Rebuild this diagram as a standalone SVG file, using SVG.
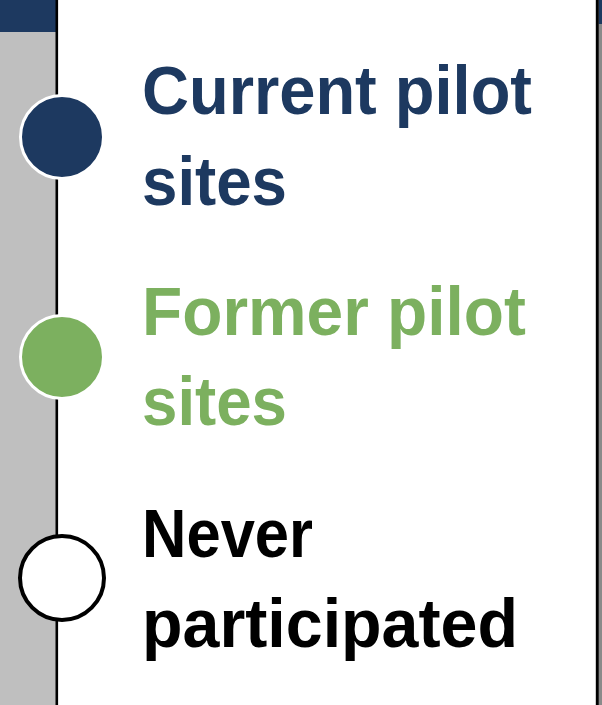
<svg xmlns="http://www.w3.org/2000/svg" width="602" height="705" viewBox="0 0 602 705">
  <style>
    .lbl { font-family: "Liberation Sans", Arial, sans-serif; font-weight: bold; font-size: 68px; }
    .navy { fill: #1d3960; }
    .green { fill: #7cb05f; }
    .black { fill: #000000; }
  </style>
  <rect x="0" y="0" width="602" height="705" fill="#ffffff"/>
  <g id="frame">
    <rect x="0" y="0" width="56" height="705" fill="#bfbfbf"/>
    <rect x="0" y="0" width="56" height="32" fill="#1d3960"/>
    <rect x="55.5" y="0" width="2.6" height="705" fill="#000000"/>
    <rect x="598.7" y="0" width="3.3" height="705" fill="#8a8a8a"/>
    <rect x="598.7" y="0" width="3.3" height="24" fill="#1d3960"/>
    <rect x="595.8" y="0" width="3" height="705" fill="#000000"/>
  </g>
  <g id="current">
    <circle cx="62" cy="137" r="41.5" fill="#1d3960" stroke="#ffffff" stroke-width="3"/>
    <text class="lbl navy" x="142" y="114" textLength="390" lengthAdjust="spacingAndGlyphs">Current pilot</text>
    <text class="lbl navy" x="142" y="205" textLength="145" lengthAdjust="spacingAndGlyphs">sites</text>
  </g>
  <g id="former">
    <circle cx="62" cy="357" r="41.5" fill="#7cb05f" stroke="#ffffff" stroke-width="3"/>
    <text class="lbl green" x="142" y="335" textLength="384" lengthAdjust="spacingAndGlyphs">Former pilot</text>
    <text class="lbl green" x="142" y="425" textLength="145" lengthAdjust="spacingAndGlyphs">sites</text>
  </g>
  <g id="never">
    <circle cx="62" cy="578" r="42" fill="#ffffff" stroke="#000000" stroke-width="4"/>
    <text class="lbl black" x="142" y="557" textLength="171" lengthAdjust="spacingAndGlyphs">Never</text>
    <text class="lbl black" x="142" y="647" textLength="376" lengthAdjust="spacingAndGlyphs">participated</text>
  </g>
  <g id="connectors"/>
</svg>
